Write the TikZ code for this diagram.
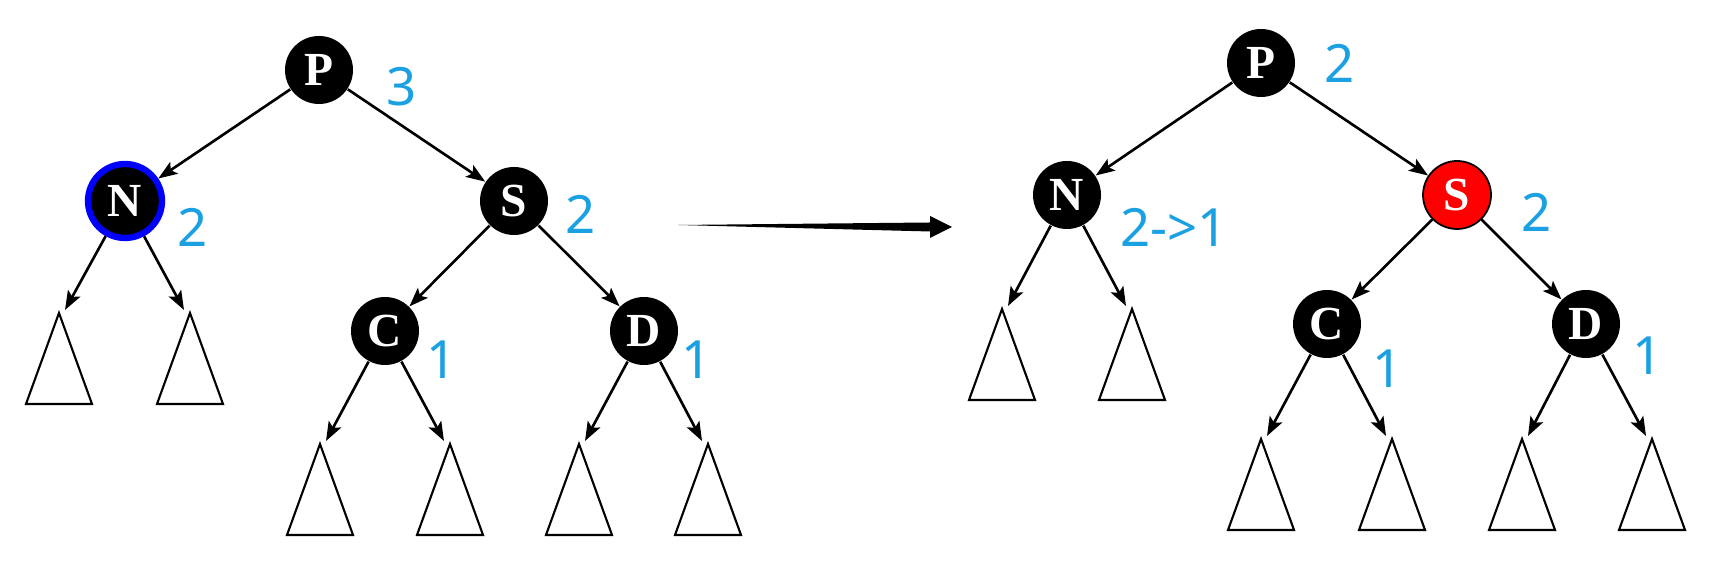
\documentclass[tikz,border=0pt]{standalone}
\usepackage{fontspec}
\setmainfont{Liberation Serif}
\newfontfamily\numfont{Noto Sans}
\usetikzlibrary{positioning,arrows.meta}
\definecolor{numblue}{HTML}{1BA1E2}
\definecolor{ringblue}{HTML}{0000FF}
\definecolor{brightred}{HTML}{FF0000}

\begin{document}
\begin{tikzpicture}[
  vertex/.style={
    circle,
    fill=black,
    text=white,
    inner sep=0pt,
    minimum size=6.8mm,
    font=\bfseries\fontsize{13.5}{15}\selectfont,
  },
  marked/.style={
    vertex,
    draw=ringblue,
    line width=1.8pt,
    minimum size=7.4mm,
  },
  redvertex/.style={
    vertex,
    fill=brightred,
    draw=black,
    line width=0.5pt,
  },
  height/.style={
    text=numblue,
    inner sep=0pt,
    font=\numfont\fontsize{15}{18}\selectfont,
  },
  edge/.style={
    line width=0.75pt,
    -{Stealth[length=1.9mm,width=1.4mm,inset=0.4mm]},
  },
  subtree/.style={
    line width=0.6pt,
    line join=miter,
  }]
  \useasboundingbox (0,0) rectangle (17.35,5.78);
  % before
  \node[vertex] (lP) at (3.19,5.08) {P};
  \node[marked] (lN) at (1.25,3.77) {N};
  \node[vertex] (lS) at (5.14,3.77) {S};
  \node[vertex] (lC) at (3.85,2.47) {C};
  \node[vertex] (lD) at (6.44,2.47) {D};
  \node[height] (lPh) at (4.02,4.91) {3};
  \node[height] (lNh) at (1.93,3.51) {2};
  \node[height] (lSh) at (5.81,3.64) {2};
  \node[height] (lCh) at (4.42,2.18) {1};
  \node[height] (lDh) at (6.97,2.18) {1};
  % after
  \node[vertex] (rP) at (12.61,5.15) {P};
  \node[vertex] (rN) at (10.67,3.83) {N};
  \node[redvertex] (rS) at (14.57,3.83) {S};
  \node[vertex] (rC) at (13.27,2.54) {C};
  \node[vertex] (rD) at (15.86,2.54) {D};
  \node[height] (rPh) at (13.40,5.15) {2};
  \node[height] (rNh) at (11.74,3.51) {2->1};
  \node[height] (rSh) at (15.37,3.66) {2};
  \node[height] (rCh) at (13.88,2.09) {1};
  \node[height] (rDh) at (16.48,2.22) {1};
  % subtrees (\s: which side the arrow comes from)
  \foreach \t/\x/\y/\s in
  {lNa/0.59/2.65/1, lNb/1.90/2.65/-1, lCa/3.20/1.34/1, lCb/4.50/1.34/-1, lDa/5.79/1.34/1, lDb/7.08/1.34/-1,
   rNa/10.02/2.69/1, rNb/11.32/2.69/-1, rCa/12.61/1.39/1, rCb/13.92/1.39/-1, rDa/15.22/1.39/1, rDb/16.52/1.39/-1}
  {
    \coordinate (\t) at (\x+\s*0.06,\y+0.03);
    \draw[subtree] (\x,\y) -- ++(-0.33,-0.91) -- ++(0.66,0) -- cycle;
  }
  \foreach \a/\b in
  {lP/lN, lP/lS, lS/lC, lS/lD, lN/lNa, lN/lNb, lC/lCa, lC/lCb, lD/lDa, lD/lDb,
   rP/rN, rP/rS, rS/rC, rS/rD, rN/rNa, rN/rNb, rC/rCa, rC/rCb, rD/rDa, rD/rDb}
  {
    \draw[edge] (\a) -- (\b);
  }
  % recolouring step
  \coordinate (from) at (6.78,3.53);
  \coordinate (to) at (9.52,3.51);
  \fill (from) -- ([xshift=-2.2mm,yshift=0.45mm]to) -- ([xshift=-2.2mm,yshift=1.1mm]to)
    -- (to) -- ([xshift=-2.2mm,yshift=-1.1mm]to) -- ([xshift=-2.2mm,yshift=-0.45mm]to) -- cycle;
\end{tikzpicture}
\end{document}
